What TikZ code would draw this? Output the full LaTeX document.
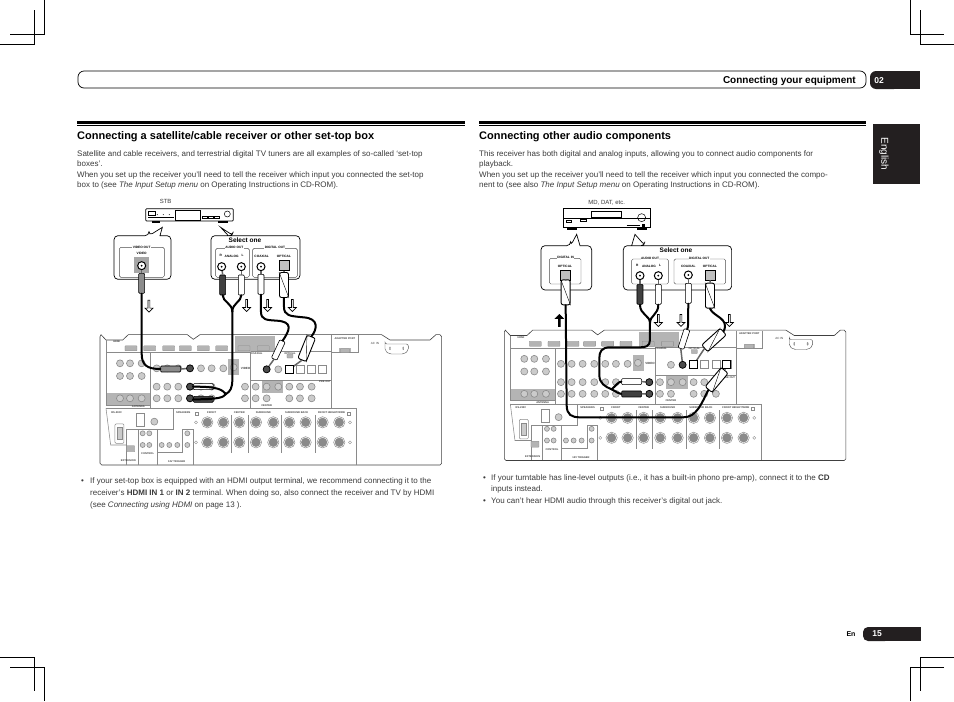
\documentclass[tikz,border=0pt]{standalone}
\usepackage{fontspec}
\setmainfont{Liberation Sans}
\usetikzlibrary{shapes.arrows}

\definecolor{textgray}{HTML}{3a3a3a}
\definecolor{tabblack}{HTML}{231f20}
\definecolor{panelgray}{HTML}{8a8a8a}
\definecolor{panelfill}{HTML}{b4b4b4}

\tikzstyle{bodyline}=[anchor=base west, inner sep=0, text=textgray, font=\fontsize{8}{10}\selectfont]
\tikzstyle{headline}=[anchor=base west, inner sep=0, text=black, font=\fontsize{11}{13}\selectfont\bfseries]
\tikzstyle{cropmark}=[line width=0.7pt, black]
\tikzstyle{panelline}=[line width=0.55pt, panelgray]
\tikzstyle{paneltext}=[inner sep=0, text=black!75, font=\fontsize{2.6}{3}\selectfont\bfseries]
\tikzstyle{port}=[rectangle, rounded corners=0.5pt, fill=panelfill, draw=panelgray, line width=0.3pt, inner sep=0, minimum width=12pt, minimum height=5pt]
\tikzstyle{jack}=[circle, draw=panelgray, fill=panelfill!70, line width=0.6pt, inner sep=0, minimum size=7pt]
\tikzstyle{blackjack}=[circle, draw=black, fill=black!70, line width=0.7pt, inner sep=0, minimum size=7pt]
\tikzstyle{post}=[circle, draw=panelgray, fill=panelgray, double=white, double distance=0.5pt, line width=0.6pt, inner sep=0, minimum size=10pt]
\tikzstyle{optical}=[rectangle, draw=panelgray, fill=white, line width=0.8pt, inner sep=0, minimum size=8pt]
\tikzstyle{blackoptical}=[rectangle, draw=black, fill=white, line width=0.9pt, inner sep=0, minimum size=8pt]
\tikzstyle{bubble}=[line width=0.7pt, black, fill=white]
\tikzstyle{group}=[line width=0.4pt, black!70, rounded corners=1.5pt]
\tikzstyle{tinylabel}=[inner sep=0.4pt, fill=white, text=black, font=\fontsize{3.2}{4}\selectfont\bfseries]
\tikzstyle{outjack}=[circle, draw=black, fill=white, line width=1pt, inner sep=0, minimum size=8pt]
\tikzstyle{outoptical}=[rectangle, draw=black, fill=black!25, line width=0.7pt, inner sep=0, minimum size=10pt]
\tikzstyle{cable}=[line width=2pt, black, line cap=round]
\tikzstyle{rcaplug}=[rectangle, rounded corners=1pt, draw=black, line width=0.6pt, inner sep=0, minimum width=6pt, minimum height=20pt]
\tikzstyle{opticalplug}=[rectangle, rounded corners=2pt, draw=black, fill=white, line width=0.9pt, inner sep=0, minimum width=9pt, minimum height=25pt]
\tikzstyle{pin}=[line width=1.5pt, black!60]
\tikzstyle{flowarrow}=[single arrow, draw=black, fill=white, line width=0.7pt, inner sep=0, minimum width=8pt, minimum height=12pt, single arrow head extend=1.2pt, shape border rotate=270]

\newcommand{\receiverpanel}[1]{
% outline
\draw [line width=0.6pt, black!75] (3,14) to (18,30) to (68,30) to (85,14) to (262,14) to (280,28) to (300,14) to (845,14)
        to (870,30) to (990,30) to (1008,14) to (1020,14) to (1025,20) to (1025,400) to (1020,405) to (5,405) to (0,400) to (0,20) to cycle;
\fill [panelfill] (405,18) rectangle (525,65);
\fill [panelfill] (18,190) rectangle (152,225);
\fill [panelfill] (385,88) rectangle (418,135);
\fill [panelfill] (485,150) rectangle (550,190);
\fill [panelfill] (718,55) rectangle (752,68);
% sections
\draw [panelline] (18,30) to (18,225) to (152,225);
\draw [panelline] (18,68) to (452,68);
\draw [panelline] (152,68) to (152,235);
\draw [panelline] (18,235) to (32,345) to (80,345);
\draw [panelline] (18,235) to (770,235);
\draw [panelline] (452,65) to (695,65) to (695,235);
\draw [panelline] (695,15) to (695,68) to (775,68) to (775,15);
\draw [panelline] (452,65) to (452,235);
\draw [panelline] (452,150) to (695,150);
\draw [panelline] (770,235) to (770,405);
\draw [panelline] (220,235) to (220,298) to (80,298) to (80,405);
\draw [panelline] (115,298) to (115,405);
\draw [panelline] (172,298) to (172,405);
\draw [panelline] (172,368) to (248,368) to (248,298) to (280,298) to (280,405);
\foreach \x in {395,445,545,645} {
    \draw [panelline] (\x,255) to (\x,370);
}
% hdmi
\foreach \x in {93,149,206,256,310,365,432,490} {
    \node [port] (#1hdmi\x) at (\x,55) {};
}
\node [port, minimum width=9pt, minimum height=4pt] (#1adapter) at (735,62) {};
\node [port, minimum width=6pt, minimum height=4pt] (#1switch) at (570,78) {};
\draw [line width=0.4pt, black!70, rounded corners=2pt] (855,42) to (925,42) to (925,62) to (912,72) to (868,72) to (855,62) to cycle;
\node [port, minimum width=1pt, minimum height=3pt] (#1acl) at (870,55) {};
\node [port, minimum width=1pt, minimum height=3pt] (#1acr) at (910,55) {};
% jacks
\foreach \x in {60,90,125} {
    \node [jack] (#1jack-\x-100) at (\x,100) {};
    \node [jack] (#1jack-\x-138) at (\x,138) {};
    \node [jack] (#1jack-\x-205) at (\x,205) {};
}
\foreach \x in {170,202,235,270,303,335,370} {
    \node [jack] (#1jack-\x-115) at (\x,115) {};
}
\foreach \x in {170,202,235,270,303,335} {
    \node [jack] (#1jack-\x-170) at (\x,170) {};
    \node [jack] (#1jack-\x-205) at (\x,205) {};
}
\node [jack] (#1jack-401-112) at (401,112) {};
\node [jack] (#1jack-435-170) at (435,170) {};
\node [jack] (#1jack-435-205) at (435,205) {};
\foreach \x in {500,535} {
    \node [jack] (#1jack-\x-118) at (\x,118) {};
}
\foreach \x in {568,600,635,668} {
    \node [optical] (#1opt\x) at (\x,118) {};
}
\foreach \x in {467,500,535,568,600,635} {
    \node [jack] (#1jack-\x-170) at (\x,170) {};
}
\foreach \x in {467,500,568,600,635} {
    \node [jack] (#1jack-\x-205) at (\x,205) {};
}
\foreach \x in {322,370,418,468,520,568,617,668,718} {
    \node [post] (#1posta\x) at (\x,277) {};
    \node [post] (#1postb\x) at (\x,337) {};
}
\foreach \x in {288,750} {
    \node [circle, draw=panelgray, line width=0.4pt, inner sep=0, minimum size=3pt] (#1plus\x) at (\x,277) {};
    \node [circle, draw=panelgray, line width=0.4pt, inner sep=0, minimum size=3pt] (#1minus\x) at (\x,337) {};
}
\node [rectangle, draw=panelgray, line width=0.4pt, inner sep=0, minimum size=3pt] (#1boxl) at (291,250) {};
\node [rectangle, draw=panelgray, line width=0.4pt, inner sep=0, minimum size=3pt] (#1boxr) at (745,250) {};
% lower left
\node [rectangle, draw=panelgray, line width=0.7pt, inner sep=0, minimum width=8pt, minimum height=13pt] (#1antenna) at (122,270) {};
\node [jack] (#1fm) at (163,275) {};
\draw [line width=0.5pt, panelgray, rounded corners=1pt] (45,282) rectangle (72,340);
\node [jack, minimum width=5pt, minimum height=12pt, rectangle] (#1serial) at (58,311) {};
\node [port, minimum width=8pt, minimum height=6pt] (#1ext) at (92,356) {};
\foreach \x/\y in {128/310,148/310,128/345,148/345,185/345,208/345,232/345,262/310,262/345} {
    \node [jack, minimum size=5pt] (#1ctl-\x-\y) at (\x,\y) {};
}
% labels
\node [paneltext] (#1thdmi) at (50,35) {HDMI};
\node [paneltext] (#1tadapter) at (735,25) {ADAPTER PORT};
\node [paneltext, font=\fontsize{3}{4}\selectfont] (#1tac) at (825,40) {AC IN};
\node [paneltext] (#1tant) at (115,231) {ANTENNA};
\node [paneltext] (#1trs) at (50,247) {RS-232C};
\node [paneltext] (#1tspeakers) at (250,247) {SPEAKERS};
\node [paneltext] (#1tfront) at (335,247) {FRONT};
\node [paneltext] (#1tcenter) at (418,247) {CENTER};
\node [paneltext] (#1tsurround) at (490,247) {SURROUND};
\node [paneltext] (#1tback) at (590,247) {SURROUND BACK};
\node [paneltext] (#1theight) at (695,247) {FRONT HEIGHT/WIDE};
\node [paneltext, font=\fontsize{3}{4}\selectfont\bfseries] (#1tvideo) at (437,115) {VIDEO};
\node [paneltext] (#1tcoax) at (470,70) {COAXIAL};
\node [paneltext] (#1topt) at (570,70) {OPTICAL};
\node [paneltext] (#1tpre) at (675,155) {PRE OUT};
\node [paneltext] (#1tcent) at (500,226) {CENTER};
\node [paneltext] (#1tctl) at (143,372) {CONTROL};
\node [paneltext] (#1ttrig) at (230,395) {12V TRIGGER};
\node [paneltext] (#1text) at (85,393) {EXTENSION};
}

\begin{document}
\begin{tikzpicture}[x=1pt, y=-1pt]
\useasboundingbox (0,0) rectangle (954,702);

% crop marks
\draw [cropmark] (44,0) to (44,34) to (10,34);
\draw [cropmark] (34,10) to (34,44) to (0,44);
\draw [cropmark] (910,0) to (910,34) to (944,34);
\draw [cropmark] (920,10) to (920,44) to (954,44);
\draw [cropmark] (0,657) to (34,657) to (34,691);
\draw [cropmark] (10,667) to (44,667) to (44,701);
\draw [cropmark] (954,657) to (920,657) to (920,691);
\draw [cropmark] (944,667) to (910,667) to (910,701);

% header band
\draw [line width=0.7pt, black, rounded corners=6pt] (78,71) rectangle (866,88);
\node [anchor=base east, inner sep=0, font=\fontsize{10}{12}\selectfont\bfseries] (chapter) at (856,83) {Connecting your equipment};
\fill [tabblack, rounded corners=6pt] (870,71) rectangle (900,89);
\fill [tabblack] (885,71) rectangle (920,89);
\node [anchor=base, inner sep=0, text=white, font=\fontsize{8.5}{10}\selectfont\bfseries] (chapnum) at (879,83) {02};
\fill [tabblack] (873,124) rectangle (920,184);
\node [rotate=-90, inner sep=0, text=white, font=\fontsize{10}{12}\selectfont] (language) at (884,154) {English};

% footer
\node [inner sep=0, font=\fontsize{7}{8}\selectfont\bfseries] (lang) at (851,634) {En};
\fill [tabblack, rounded corners=5pt] (863,627) rectangle (890,641);
\fill [tabblack] (875,627) rectangle (921,641);
\node [inner sep=0, text=white, font=\fontsize{8.5}{10}\selectfont\bfseries] (pagenum) at (877,634) {15};

% left column
\fill [black] (77,121) rectangle (465,124);
\fill [black] (77,125) rectangle (465,125.7);
\node [headline] (lhead) at (77,139) {Connecting a satellite/cable receiver or other set-top box};
\node [bodyline] (lbody1) at (77,156) {Satellite and cable receivers, and terrestrial digital TV tuners are all examples of so-called ‘set-top};
\node [bodyline] (lbody2) at (77,166) {boxes’.};
\node [bodyline] (lbody3) at (77,177) {When you set up the receiver you’ll need to tell the receiver which input you connected the set-top};
\node [bodyline] (lbody4) at (77,187) {box to (see \emph{The Input Setup menu} on Operating Instructions in CD-ROM).};
\node [bodyline] (lbullet) at (81,483) {•};
\node [bodyline] (lnote1) at (90,483) {If your set-top box is equipped with an HDMI output terminal, we recommend connecting it to the};
\node [bodyline] (lnote2) at (90,495) {receiver’s \textbf{HDMI IN 1} or \textbf{IN 2} terminal. When doing so, also connect the receiver and TV by HDMI};
\node [bodyline] (lnote3) at (90,507) {(see \emph{Connecting using HDMI} on page 13 ).};

% right column
\fill [black] (479,121) rectangle (866,124);
\fill [black] (479,125) rectangle (866,125.7);
\node [headline] (rhead) at (479,139) {Connecting other audio components};
\node [bodyline] (rbody1) at (479,156) {This receiver has both digital and analog inputs, allowing you to connect audio components for};
\node [bodyline] (rbody2) at (479,166) {playback.};
\node [bodyline] (rbody3) at (479,177) {When you set up the receiver you’ll need to tell the receiver which input you connected the compo-};
\node [bodyline] (rbody4) at (479,187) {nent to (see also \emph{The Input Setup menu} on Operating Instructions in CD-ROM).};
\node [bodyline] (rbullet1) at (483,480) {•};
\node [bodyline] (rnote1) at (491,480) {If your turntable has line-level outputs (i.e., it has a built-in phono pre-amp), connect it to the \textbf{CD}};
\node [bodyline] (rnote2) at (491,491) {inputs instead.};
\node [bodyline] (rbullet2) at (483,503) {•};
\node [bodyline] (rnote3) at (491,503) {You can’t hear HDMI audio through this receiver’s digital out jack.};

% receivers
\begin{scope}[shift={(100,330)}, x=0.3333pt, y=-0.3333pt]
\receiverpanel{sat}
\end{scope}
\begin{scope}[shift={(504.3,325.5)}, x=0.3333pt, y=-0.3333pt]
\receiverpanel{aud}
\end{scope}

% set-top box
\begin{scope}[shift={(100,190)}, x=0.3333pt, y=-0.3333pt]
\node [inner sep=0, text=textgray, font=\fontsize{6}{7}\selectfont] (stblabel) at (197,33) {STB};
\draw [line width=0.8pt, black, rounded corners=1pt, fill=white] (137,56) rectangle (400,93);
\fill [black] (155,93) rectangle (180,98);
\fill [black] (355,93) rectangle (385,98);
\draw [line width=0.6pt, black, fill=white] (227,62) rectangle (302,90);
\draw [line width=0.4pt, black] (145,65) rectangle (165,75);
\draw [line width=0.8pt, black] (145,82) to (222,82);
\foreach \x in {172,190,208} {
    \fill [black] (\x,74) circle (0.5pt);
}
\foreach \x in {308,325,343} {
    \draw [line width=0.4pt, black] (\x,79) rectangle (\x+14,85);
}
\draw [line width=0.5pt, black] (382,72) circle (3pt);

\draw [bubble, rounded corners=4pt] (147,137) [sharp corners] to (187,112) to (180,137) [rounded corners=4pt] to (213,137) to (213,268) to (42,268) to (42,137) to cycle;
\draw [group] (58,172) rectangle (193,262);
\node [tinylabel] (videoout) at (125,172) {VIDEO OUT};
\node [tinylabel] (videolabel) at (125,190) {VIDEO};
\fill [black!35] (103,202) rectangle (148,250);
\node [outjack] (stbvideo) at (125,227) {};
\fill [black] (stbvideo) circle (1pt);

\draw [bubble, rounded corners=4pt] (400,137) [sharp corners] to (362,112) to (385,137) [rounded corners=4pt] to (600,137) to (600,268) to (333,268) to (333,137) to cycle;
\node [inner sep=0, font=\fontsize{6.5}{8}\selectfont\bfseries] (selectone) at (435,151) {Select one};
\draw [group] (347,175) rectangle (448,262);
\draw [group] (458,175) rectangle (592,262);
\node [tinylabel] (audioout) at (403,173) {AUDIO OUT};
\node [tinylabel] (digitalout) at (525,173) {DIGITAL OUT};
\node [tinylabel] (analog) at (395,198) {ANALOG};
\node [tinylabel] (rlabel) at (362,197) {R};
\node [tinylabel] (llabel) at (428,197) {L};
\node [tinylabel] (coaxial) at (485,198) {COAXIAL};
\node [tinylabel] (optlabel) at (552,198) {OPTICAL};
\node [outjack] (stbr) at (365,230) {};
\node [outjack] (stbl) at (424,230) {};
\node [outjack] (stbc) at (483,230) {};
\fill [black] (stbr) circle (1pt);
\fill [black] (stbl) circle (1pt);
\fill [black] (stbc) circle (1pt);
\node [outoptical] (stbo) at (553,227) {};

\node [flowarrow] (arrow1) at (147,347) {};
\node [flowarrow] (arrow2) at (440,345) {};
\node [flowarrow] (arrow3) at (503,345) {};
\node [flowarrow] (arrow4) at (577,345) {};

% plugs on the box
\node [rcaplug, fill=black!45] (videoplug) at (125,280) {};
\node [rcaplug, fill=black!75] (rplug) at (368,285) {};
\node [rcaplug, fill=white] (lplug) at (424,285) {};
\node [rcaplug, fill=white] (cplug) at (483,283) {};
\node [opticalplug] (oplug) at (552,285) {};
\draw [line width=0.4pt] (oplug.north west) to (oplug.south east);
\draw [pin] (stbr) to (rplug.north);
\draw [pin] (stbl) to (lplug.north);
\draw [pin] (stbc) to (cplug.north);
\draw [pin] (stbvideo) to (videoplug.north);
\draw [pin] (stbo) to (oplug.north);

% plugs on the receiver
\node [rcaplug, fill=black!45, rotate=90] (videoin) at (212,537) {};
\draw [pin] (videoin.south) to (satjack-270-115);
\node [rcaplug, fill=white, rotate=90] (lin) at (310,590) {};
\draw [pin] (lin.south) to (satjack-270-170);
\node [rcaplug, fill=black!75, rotate=90] (rin) at (310,628) {};
\draw [pin] (rin.south) to (satjack-270-205);
\node [rcaplug, fill=white, rotate=-25] (cin) at (535,480) {};
\draw [pin] (cin.south) to (satjack-500-118);
\node [opticalplug, rotate=-22] (oin) at (620,475) {};
\draw [line width=0.4pt] (oin.north west) to (oin.south east);
\draw [pin] (oin.south) to (satopt568);
\node [blackjack] (satvideoend) at (satjack-270-115) {};
\node [blackjack] (satlend) at (satjack-270-170) {};
\node [blackjack] (satrend) at (satjack-270-205) {};
\node [blackjack] (satcend) at (satjack-500-118) {};
\node [blackoptical] (satoend) at (satopt568) {};

% cables
\coordinate (audiojoin) at (397,365);
\coordinate (audiosplit) at (378,612);
\draw [cable] (videoplug.south) to (125,490) .. controls (125,525) and (140,537) .. (videoin.north);
\draw [cable] (rplug.south) .. controls (368,335) and (397,340) .. (audiojoin);
\draw [cable] (lplug.south) .. controls (424,335) and (397,340) .. (audiojoin);
\draw [cable] (audiojoin) to (397,570) .. controls (397,595) and (390,605) .. (audiosplit);
\draw [cable] (audiosplit) .. controls (365,600) and (360,590) .. (lin.north);
\draw [cable] (audiosplit) .. controls (370,622) and (360,628) .. (rin.north);
\draw [cable] (cplug.south) to (483,365) .. controls (483,390) and (500,390) .. (530,392) .. controls (580,395) and (570,420) .. (cin.north);
\draw [cable] (oplug.south) to (552,350) .. controls (552,378) and (570,378) .. (610,382) .. controls (660,385) and (650,420) .. (oin.north);
\end{scope}

% audio component
\begin{scope}[shift={(500,195)}, x=0.3333pt, y=-0.3333pt]
\node [inner sep=0, text=textgray, font=\fontsize{6}{7}\selectfont] (mdlabel) at (320,22) {MD, DAT, etc.};
\draw [line width=0.8pt, black, fill=white] (190,40) rectangle (450,98);
\draw [line width=0.4pt, black] (190,70) to (450,70);
\draw [line width=0.4pt, black] (275,48) rectangle (365,68);
\draw [line width=1.2pt, black] (265,71) to (370,71);
\draw [line width=0.4pt, black] (200,75) rectangle (215,82);
\draw [line width=0.4pt, black] (240,74) rectangle (260,80);
\draw [line width=1pt, black] (380,90) to (420,90);
\fill [black] (425,88) rectangle (435,95);
\fill [black] (200,98) rectangle (230,105);
\fill [black] (410,98) rectangle (440,105);
\draw [line width=0.5pt, black] (425,68) circle (4pt);

\draw [bubble, rounded corners=4pt] (212,152) [sharp corners] to (230,118) to (240,152) [rounded corners=4pt] to (275,152) to (275,285) to (123,285) to (123,152) to cycle;
\draw [group] (148,190) rectangle (243,267);
\node [tinylabel] (digitalin) at (197,188) {DIGITAL IN};
\node [tinylabel] (inopt) at (195,213) {OPTICAL};
\node [outoptical] (mdin) at (195,241) {};

\draw [bubble, rounded corners=4pt] (435,152) [sharp corners] to (405,118) to (395,152) [rounded corners=4pt] to (695,152) to (695,285) to (370,285) to (370,152) to cycle;
\node [inner sep=0, font=\fontsize{6.5}{8}\selectfont\bfseries] (selecttwo) at (528,165) {Select one};
\draw [group] (395,192) rectangle (505,267);
\draw [group] (522,192) rectangle (677,267);
\node [tinylabel] (mdaudio) at (450,190) {AUDIO OUT};
\node [tinylabel] (mddigital) at (598,190) {DIGITAL OUT};
\node [tinylabel] (mdr) at (412,211) {R};
\node [tinylabel] (mdanalog) at (447,213) {ANALOG};
\node [tinylabel] (mdl) at (480,211) {L};
\node [tinylabel] (mdcoax) at (565,213) {COAXIAL};
\node [tinylabel] (mdopt) at (630,213) {OPTICAL};
\node [outjack] (mdrjack) at (420,242) {};
\node [outjack] (mdljack) at (475,242) {};
\node [outjack] (mdcjack) at (565,240) {};
\fill [black] (mdrjack) circle (1pt);
\fill [black] (mdljack) circle (1pt);
\fill [black] (mdcjack) circle (1pt);
\node [outoptical] (mdout) at (632,240) {};

\node [flowarrow] (arrow5) at (475,375) {};
\node [flowarrow] (arrow6) at (543,375) {};
\node [flowarrow] (arrow7) at (688,375) {};
\node [flowarrow, fill=black, shape border rotate=90] (arrow8) at (178,378) {};

% plugs on the component
\node [opticalplug] (mdinplug) at (197,292) {};
\draw [line width=0.4pt] (mdinplug.north west) to (mdinplug.south east);
\node [rcaplug, fill=black!75] (mdrplug) at (420,298) {};
\node [rcaplug, fill=white] (mdlplug) at (475,298) {};
\node [rcaplug, fill=white] (mdcplug) at (565,295) {};
\node [opticalplug] (mdoplug) at (630,302) {};
\draw [line width=0.4pt] (mdoplug.north west) to (mdoplug.south east);
\draw [pin] (mdin) to (mdinplug.north);
\draw [pin] (mdrjack) to (mdrplug.north);
\draw [pin] (mdljack) to (mdlplug.north);
\draw [pin] (mdcjack) to (mdcplug.north);
\draw [pin] (mdout) to (mdoplug.north);

% plugs on the receiver
\node [rcaplug, fill=white, rotate=90] (mdlin) at (395,560) {};
\draw [pin] (mdlin.south) to (audjack-435-170);
\node [rcaplug, fill=black!75, rotate=90] (mdrin) at (395,597) {};
\draw [pin] (mdrin.south) to (audjack-435-205);
\node [rcaplug, fill=white, rotate=-18] (mdcin) at (552,432) {};
\draw [pin] (mdcin.south) to (audjack-535-118);
\node [opticalplug, rotate=-48] (mdoin) at (642,435) {};
\draw [line width=0.4pt] (mdoin.north west) to (mdoin.south east);
\draw [pin] (mdoin.south) to (audopt568);
\node [opticalplug, rotate=-40] (mdiin) at (650,555) {};
\draw [line width=0.4pt] (mdiin.north west) to (mdiin.south east);
\draw [pin] (mdiin.north) to (audopt668);
\node [blackjack] (audlend) at (audjack-435-170) {};
\node [blackjack] (audrend) at (audjack-435-205) {};
\node [blackjack] (audcend) at (audjack-535-118) {};
\node [blackoptical] (audoend) at (audopt568) {};
\node [blackoptical] (audiend) at (audopt668) {};

% cables
\coordinate (mdjoin) at (450,385);
\coordinate (mdsplit) at (335,583);
\draw [cable] (mdrplug.south) .. controls (420,360) and (450,360) .. (mdjoin);
\draw [cable] (mdlplug.south) .. controls (475,360) and (450,360) .. (mdjoin);
\draw [cable] (mdjoin) to (450,435) .. controls (450,455) and (435,457) .. (420,457) to (330,457) .. controls (305,457) and (298,470) .. (298,490) to (298,540) .. controls (298,565) and (315,575) .. (mdsplit);
\draw [cable] (mdsplit) .. controls (350,570) and (355,560) .. (mdlin.north);
\draw [cable] (mdsplit) .. controls (350,590) and (355,597) .. (mdrin.north);
\draw [cable] (mdinplug.south) to (200,630) .. controls (200,660) and (215,667) .. (240,667) to (550,667) .. controls (590,667) and (605,625) .. (mdiin.south);
\draw [cable] (mdcplug.south) to (564,395) to (mdcin.north);
\draw [cable] (mdoplug.south) .. controls (640,365) and (690,370) .. (mdoin.north);
\end{scope}

\end{tikzpicture}
\end{document}
